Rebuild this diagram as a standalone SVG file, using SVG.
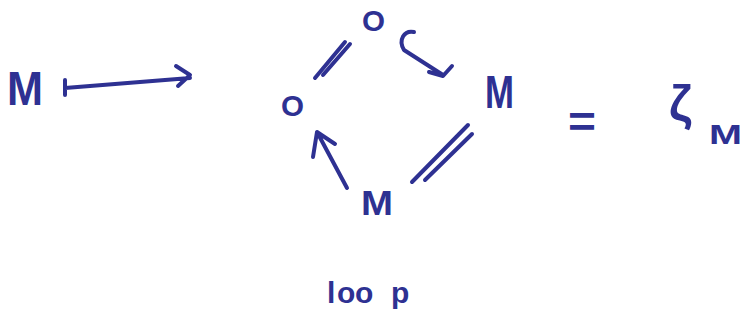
<svg xmlns="http://www.w3.org/2000/svg" width="747" height="326" viewBox="0 0 747 326">
<style>
.t{font-family:"Liberation Sans","DejaVu Sans",sans-serif;fill:#2e3192;font-weight:bold}
.s{fill:none;stroke:#2e3192;stroke-width:4;stroke-linecap:round;stroke-linejoin:round}
</style>
<rect width="747" height="326" fill="#fff"/>
<g id="node-M-left"><text class="t" x="7" y="105" font-size="48" textLength="36" lengthAdjust="spacingAndGlyphs">M</text></g>
<g id="node-O-top"><text class="t" x="362" y="31" font-size="30" textLength="23" lengthAdjust="spacingAndGlyphs">O</text></g>
<g id="node-O-left"><text class="t" x="281" y="116" font-size="30" textLength="23" lengthAdjust="spacingAndGlyphs">O</text></g>
<g id="node-M-right"><text class="t" x="485" y="108" font-size="46" textLength="29" lengthAdjust="spacingAndGlyphs">M</text></g>
<g id="node-M-bottom"><text class="t" x="361" y="215" font-size="35" textLength="32" lengthAdjust="spacingAndGlyphs">M</text></g>
<g id="node-eq"><text class="t" x="568" y="137" font-size="44" textLength="28" lengthAdjust="spacingAndGlyphs">=</text></g>
<g id="node-zeta"><text class="t" x="669" y="120" font-size="50">ζ</text><text class="t" x="709" y="144" font-size="28" textLength="33" lengthAdjust="spacingAndGlyphs">M</text></g>
<g id="label-loop"><text class="t" font-size="30" x="327 337 355 391" y="303">loop</text></g>
<g id="connectors">
<path class="s" d="M65 80 V95 M65 88 L190 78 M176 66 L190 75 L178 86"/>
<path class="s" d="M315 78 L345 42 M323 75 L350 44"/>
<path class="s" d="M414 32 C404 30 398 40 404 50 L443 75 M452 66 L443 76 L429 72"/>
<path class="s" d="M412 182 L468 125 M425 180 L472 134"/>
<path class="s" d="M347 188 L317 132 M313 157 L317 132 L335 144"/>
</g>
</svg>
